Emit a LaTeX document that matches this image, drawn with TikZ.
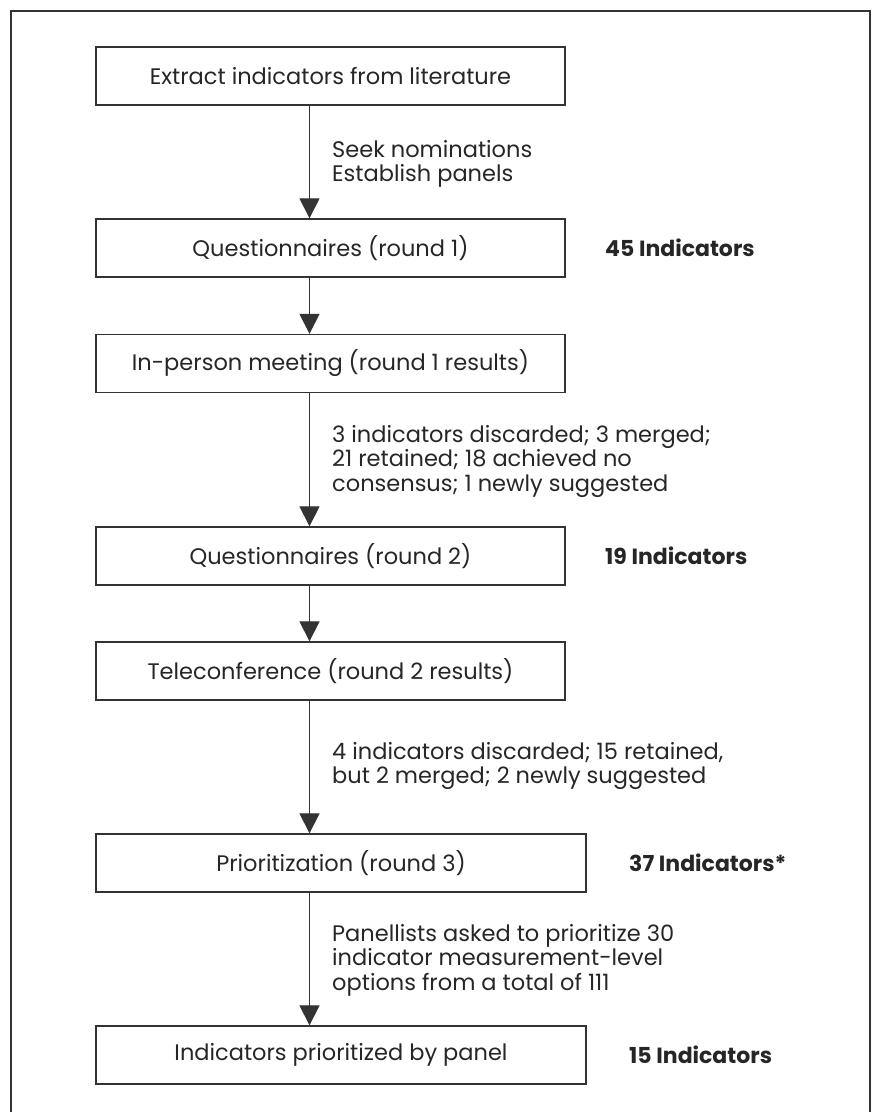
\documentclass[tikz,border=0pt]{standalone}
\usepackage{fontspec}
\setmainfont{Poppins}
\usetikzlibrary{arrows.meta}
\definecolor{ln}{HTML}{333333}
\definecolor{tx}{HTML}{262626}
\begin{document}
\begin{tikzpicture}[x=1pt,y=1pt,
  stagebox/.style={draw=ln,line width=1.3pt,minimum height=58pt,inner sep=0pt,text=tx,font=\fontsize{22.5}{24}\selectfont},
  edgelab/.style={anchor=west,align=left,inner sep=0pt,text=tx,font=\fontsize{22.5}{24.5}\selectfont},
  countlab/.style={anchor=west,inner sep=0pt,text=tx,font=\fontsize{22}{24}\selectfont\bfseries},
  arr/.style={draw=ln,line width=1.1pt,-{Triangle[length=20pt,width=20pt]}}]
\useasboundingbox (0,0) rectangle (875,-1112);
\draw[ln,line width=1.5pt] (11,-1120) -- (11,-11) -- (870,-11) -- (870,-1120);
\coordinate (ax) at (309.5,0);
% boxes
\node[stagebox,minimum width=469pt] (b1) at (330.5,-76) {Extract indicators from literature};
\node[stagebox,minimum width=469pt] (b2) at (330.5,-248) {Questionnaires (round 1)};
\node[stagebox,minimum width=469pt] (b3) at (330.5,-363.5) {In-person meeting (round 1 results)};
\node[stagebox,minimum width=469pt] (b4) at (330.5,-556) {Questionnaires (round 2)};
\node[stagebox,minimum width=469pt] (b5) at (330.5,-671) {Teleconference (round 2 results)};
\node[stagebox,minimum width=490pt] (b6) at (341,-863) {Prioritization (round 3)};
\node[stagebox,minimum width=490pt] (b7) at (341,-1055) {Indicators prioritized by panel};
% arrows
\draw[arr] (b1.south -| ax) -- (b2.north -| ax);
\draw[arr] (b2.south -| ax) -- (b3.north -| ax);
\draw[arr] (b3.south -| ax) -- (b4.north -| ax);
\draw[arr] (b4.south -| ax) -- (b5.north -| ax);
\draw[arr] (b5.south -| ax) -- (b6.north -| ax);
\draw[arr] (b6.south -| ax) -- (b7.north -| ax);
% edge labels
\node[edgelab] (l1) at (332,-164) {Seek nominations\\Establish panels};
\node[edgelab] (l3) at (332,-461) {3 indicators discarded; 3 merged;\\21 retained; 18 achieved no\\consensus; 1 newly suggested};
\node[edgelab] (l5) at (332,-766) {4 indicators discarded; 15 retained,\\but 2 merged; 2 newly suggested};
\node[edgelab] (l6) at (332,-960) {Panellists asked to prioritize 30\\indicator measurement-level\\options from a total of 111};
% counts
\node[countlab] (c2) at (605,-248) {45 Indicators};
\node[countlab] (c4) at (605,-556) {19 Indicators};
\node[countlab] (c6) at (629,-863) {37 Indicators*};
\node[countlab] (c7) at (629,-1055) {15 Indicators};
\end{tikzpicture}
\end{document}
